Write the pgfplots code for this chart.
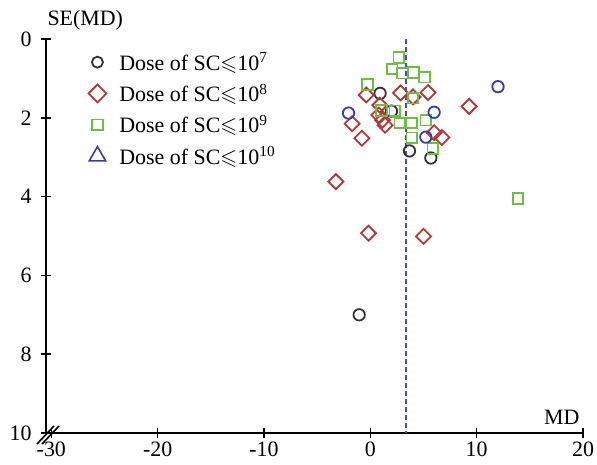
\documentclass[border=0pt]{standalone}
\usepackage{amssymb}
\usepackage{pgfplots}
\pgfplotsset{compat=1.18}
\usepackage{fontspec}
\setmainfont{Liberation Serif}

\definecolor{cblack}{HTML}{333333}
\definecolor{cred}{HTML}{B03A3A}
\definecolor{cgreen}{HTML}{6DBE45}
\definecolor{cblue}{HTML}{3A3AAA}
\definecolor{cdash}{HTML}{4A4AC0}

\pgfplotsset{
  pcirc/.style={only marks, mark=o, mark size=5.7bp, line width=1.8bp},
  pdiam/.style={only marks, mark=square, mark size=5.3bp, line width=1.8bp,
    mark options={rotate=45}},
  psq/.style={only marks, mark=square, mark size=5.3bp, line width=1.8bp},
}

\begin{document}
\begin{tikzpicture}
\begin{axis}[
  scale only axis, width=537bp, height=394bp,
  xmin=-30.5, xmax=20, ymin=0, ymax=10, y dir=reverse,
  axis x line=bottom, axis y line=left,
  axis line style={black, line width=1.9bp, -},
  xtick={-30,-20,...,20}, ytick={0,2,...,10},
  tick align=center, major tick length=10bp,
  tick style={black, line width=1.6bp},
  ticklabel style={font=\fontsize{22}{26}\selectfont},
  yticklabel style={xshift=-6bp},
  /pgf/number format/assume math mode=true,
  clip=false,
  legend cell align=left,
  legend style={at={(axis cs:-26.8,0.24)}, anchor=north west, draw=none,
    fill=none, font=\fontsize{22}{26}\selectfont, row sep=8.2bp,
    /tikz/every odd column/.append style={column sep=11bp}},
]
% SC <= 10^7
\addplot[pcirc, cblack, forget plot] coordinates {
  (0.92,1.38) (1.99,1.83) (3.68,2.84) (5.69,3.02) (-1.05,7.0)
};
% SC <= 10^8
\addplot[pdiam, cred, forget plot] coordinates {
  (-0.39,1.42) (2.84,1.37) (4.02,1.47) (5.43,1.36) (9.29,1.71)
  (0.89,1.68) (0.80,1.93) (1.15,2.06) (1.39,2.19) (-1.71,2.15)
  (-0.80,2.52) (6.0,2.38) (6.72,2.50) (-3.24,3.62) (-0.17,4.93)
  (5.0,5.01)
};
% SC <= 10^9
\addplot[psq, cgreen, forget plot] coordinates {
  (2.68,0.47) (2.05,0.76) (2.99,0.87) (4.06,0.85) (5.09,0.97)
  (-0.26,1.15) (4.02,1.50) (1.05,1.81) (2.30,1.82) (2.77,2.13)
  (3.90,2.13) (5.22,2.06) (3.90,2.51) (5.87,2.78) (13.89,4.05)
};
% SC <= 10^10
\addplot[pcirc, cblue, forget plot] coordinates {
  (-2.05,1.88) (6.0,1.86) (5.22,2.49) (12.01,1.21)
};
% pooled MD
\addplot[cdash, line width=1.8bp, dash pattern=on 5bp off 3bp, forget plot]
  coordinates {(3.34,0) (3.34,10)};

\addlegendimage{pcirc, cblack, mark size=5.5bp}
\addlegendentry{Dose of SC$\leqslant$10\textsuperscript{7}}
\addlegendimage{pdiam, cred, mark size=6.3bp}
\addlegendentry{Dose of SC$\leqslant$10\textsuperscript{8}}
\addlegendimage{psq, cgreen, mark size=5.3bp}
\addlegendentry{Dose of SC$\leqslant$10\textsuperscript{9}}
\addlegendimage{only marks, mark=triangle, cblue, mark size=9.5bp, line width=1.6bp}
\addlegendentry{Dose of SC$\leqslant$10\textsuperscript{10}}

% axis break
\draw[line width=1.6bp] ([shift={(-9bp,-11bp)}]axis cs:-30.5,10) -- ++(17bp,18bp);
\draw[line width=1.6bp] ([shift={(-4bp,-11bp)}]axis cs:-30.5,10) -- ++(17bp,18bp);

\node[anchor=base west, font=\fontsize{22}{26}\selectfont]
  at ([shift={(-2bp,14bp)}]axis cs:-30.5,0) {SE(MD)};
\node[anchor=base east, font=\fontsize{22}{26}\selectfont]
  at ([shift={(0bp,9bp)}]axis cs:20,10) {MD};

\coordinate (bl) at (axis cs:-30.5,10);
\coordinate (tr) at (axis cs:20,0);
\end{axis}
\pgfresetboundingbox
\path[use as bounding box] ([shift={(-46bp,-32bp)}]bl) rectangle ([shift={(14bp,39bp)}]tr);
\end{tikzpicture}
\end{document}
